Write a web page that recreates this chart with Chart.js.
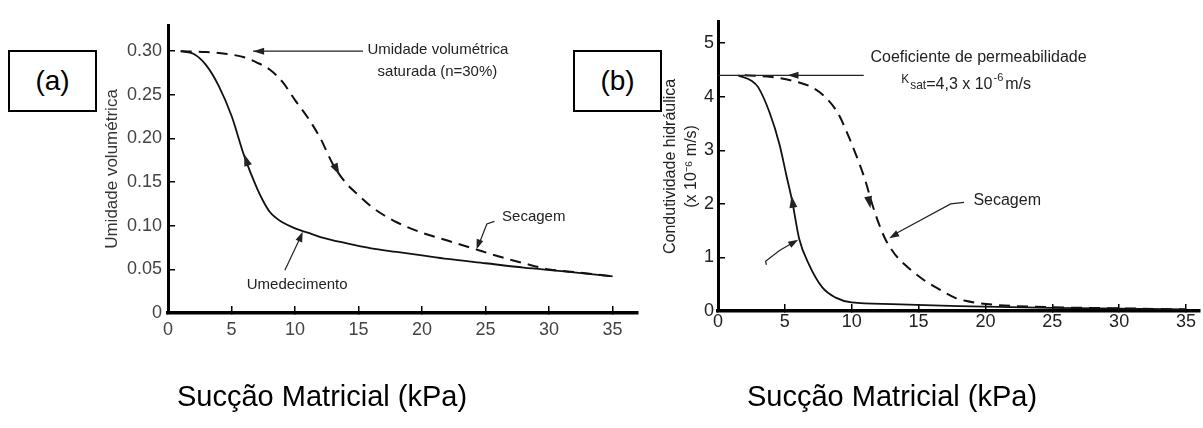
<!DOCTYPE html>
<html>
<head>
<meta charset="utf-8">
<script src="https://cdn.jsdelivr.net/npm/chart.js@4"></script>
<style>
body { margin: 0; background: #fff; width: 1203px; height: 428px; overflow: hidden; position: relative; font-family: "Liberation Sans", Arial, sans-serif; }
canvas { position: absolute; top: 0; }
#chartA { left: 0; }
#chartB { left: 600px; }
.tag { position: absolute; top: 50px; height: 58px; width: 85px; border: 2px solid #000; background: #fff; font-size: 28px; line-height: 58px; text-align: center; z-index: 2; }
.xtitle { position: absolute; top: 382px; font-size: 29px; line-height: 1; white-space: nowrap; }
</style>
</head>
<body>
<canvas id="chartA" width="650" height="428"></canvas>
<canvas id="chartB" width="603" height="428"></canvas>
<div class="tag" style="left:8px">(a)</div>
<div class="tag" style="left:573px">(b)</div>
<div class="xtitle" style="left:177px">Sucção Matricial (kPa)</div>
<div class="xtitle" style="left:747px">Sucção Matricial (kPa)</div>
<script>
var FONT = '"Liberation Sans", Arial, sans-serif';
Chart.defaults.font.family = FONT;

// (a) umidade volumetrica x succao
var suctionWetA = [1, 2, 3, 4, 5, 6, 7, 7.5, 8, 8.5, 9, 10, 11, 12, 14, 16, 18, 20, 22, 25, 28, 31, 35];
var thetaWetA = [0.300, 0.297, 0.284, 0.260, 0.226, 0.180, 0.143, 0.128, 0.116, 0.109, 0.104, 0.097, 0.092, 0.087, 0.080, 0.074, 0.070, 0.066, 0.062, 0.057, 0.052, 0.048, 0.042];
var suctionDryA = [1, 3, 4.5, 6, 7, 8, 9, 10, 11, 12, 13, 14, 15, 16, 17, 18, 20, 22, 24, 26, 28, 30, 32, 35];
var thetaDryA = [0.300, 0.299, 0.297, 0.293, 0.287, 0.279, 0.265, 0.244, 0.224, 0.200, 0.170, 0.149, 0.135, 0.122, 0.112, 0.104, 0.092, 0.083, 0.074, 0.065, 0.057, 0.050, 0.047, 0.042];

// (b) condutividade hidraulica (x 10^-6 m/s) x succao
var suctionWetB = [1.5, 2.5, 3, 3.85, 4.6, 5.1, 5.55, 6.07, 6.8, 7.8, 8.8, 10, 13, 18, 25, 30, 35];
var kWetB = [4.40, 4.30, 4.18, 3.71, 3.11, 2.55, 2.05, 1.35, 0.87, 0.44, 0.25, 0.16, 0.13, 0.09, 0.06, 0.045, 0.03];
var suctionDryB = [2, 4, 6, 7, 8, 9, 9.8, 10.5, 11, 11.5, 12, 12.5, 13, 13.5, 14.5, 15.5, 16.3, 17, 17.7, 18.5, 19.4, 21, 25, 30, 35];
var kDryB = [4.40, 4.37, 4.27, 4.18, 4.00, 3.68, 3.24, 2.80, 2.45, 2.02, 1.65, 1.35, 1.14, 0.98, 0.75, 0.56, 0.44, 0.34, 0.25, 0.19, 0.15, 0.11, 0.07, 0.05, 0.03];

var xTicks = [0, 5, 10, 15, 20, 25, 30, 35];
var xTickLabels = ['0', '5', '10', '15', '20', '25', '30', '35'];
var yTicksA = [0, 0.05, 0.10, 0.15, 0.20, 0.25, 0.30];
var yTickLabelsA = ['0', '0.05', '0.10', '0.15', '0.20', '0.25', '0.30'];
var yTicksB = [0, 1, 2, 3, 4, 5];
var yTickLabelsB = ['0', '1', '2', '3', '4', '5'];

function pts(xs, ys) {
    return xs.map(function (x, i) { return {x: x, y: ys[i]}; });
}

function px(chart, p) {
    return [chart.scales.x.getPixelForValue(p[0]), chart.scales.y.getPixelForValue(p[1])];
}

function polyline(chart, list) {
    var ctx = chart.ctx;
    ctx.beginPath();
    list.forEach(function (p, i) {
        var q = px(chart, p);
        if (i) ctx.lineTo(q[0], q[1]); else ctx.moveTo(q[0], q[1]);
    });
    ctx.stroke();
}

// filled arrow head, tip at "tip", pointing away from "from"
function arrowHead(chart, tip, from, len, half) {
    var ctx = chart.ctx;
    var t = px(chart, tip), f = px(chart, from);
    var dx = t[0] - f[0], dy = t[1] - f[1], d = Math.hypot(dx, dy);
    dx /= d; dy /= d;
    var bx = t[0] - dx * len, by = t[1] - dy * len;
    ctx.beginPath();
    ctx.moveTo(t[0], t[1]);
    ctx.lineTo(bx - dy * half, by + dx * half);
    ctx.lineTo(bx + dy * half, by - dx * half);
    ctx.closePath();
    ctx.fill();
}

function text(chart, str, p, size) {
    var ctx = chart.ctx, q = px(chart, p);
    ctx.font = size + 'px ' + FONT;
    ctx.textAlign = 'left';
    ctx.textBaseline = 'middle';
    ctx.fillText(str, q[0], q[1]);
}

var notesA = {
    id: 'notesA',
    afterDraw: function (chart) {
        var ctx = chart.ctx;
        ctx.save();
        ctx.strokeStyle = '#222';
        ctx.fillStyle = '#222';
        ctx.lineWidth = 1.2;
        // saturated water content pointer
        polyline(chart, [[6.7, 0.30], [15.35, 0.30]]);
        arrowHead(chart, [6.7, 0.30], [8, 0.30], 11, 3.5);
        text(chart, 'Umidade volumétrica', [15.7, 0.302], 15);
        text(chart, 'saturada (n=30%)', [16.5, 0.276], 15);
        // Secagem
        polyline(chart, [[25.7, 0.105], [25.1, 0.102], [24.4, 0.076]]);
        arrowHead(chart, [24.3, 0.073], [24.7, 0.09], 10, 3.5);
        text(chart, 'Secagem', [26.3, 0.110], 15);
        // Umedecimento
        polyline(chart, [[9.2, 0.049], [10.5, 0.089]]);
        arrowHead(chart, [10.6, 0.093], [10.1, 0.075], 10, 3.5);
        text(chart, 'Umedecimento', [6.2, 0.032], 15);
        // direction arrows on the curves
        arrowHead(chart, [6.0, 0.182], [6.4, 0.165], 12, 4);
        arrowHead(chart, [13.5, 0.158], [13.0, 0.172], 12, 4);
        ctx.restore();
    }
};

var notesB = {
    id: 'notesB',
    afterDraw: function (chart) {
        var ctx = chart.ctx;
        ctx.save();
        ctx.strokeStyle = '#222';
        ctx.fillStyle = '#222';
        ctx.lineWidth = 1.2;
        // saturated conductivity pointer
        polyline(chart, [[0, 4.4], [10.9, 4.4]]);
        arrowHead(chart, [5.2, 4.4], [6.5, 4.4], 11, 3.5);
        text(chart, 'Coeficiente de permeabilidade', [11.4, 4.74], 16);
        // K_sat = 4,3 x 10^-6 m/s
        var q = px(chart, [13.7, 4.2]);
        var x = q[0], base = q[1] + 3;
        ctx.textAlign = 'left';
        ctx.textBaseline = 'alphabetic';
        ctx.font = '12px ' + FONT;
        ctx.fillText('K', x, base - 6);
        x += ctx.measureText('K').width + 1;
        ctx.fillText('sat', x, base);
        x += ctx.measureText('sat').width;
        ctx.font = '16px ' + FONT;
        ctx.fillText('=4,3 x 10', x, base);
        x += ctx.measureText('=4,3 x 10').width + 1;
        ctx.font = '11px ' + FONT;
        ctx.fillText('-6', x, base - 8);
        x += ctx.measureText('-6').width + 2;
        ctx.font = '16px ' + FONT;
        ctx.fillText('m/s', x, base);
        // Secagem
        polyline(chart, [[18.4, 2.03], [17.4, 2.0], [13.1, 1.42]]);
        arrowHead(chart, [12.8, 1.36], [13.8, 1.5], 10, 3.5);
        text(chart, 'Secagem', [19.1, 2.07], 16);
        // wetting pointer
        polyline(chart, [[3.62, 0.86], [3.56, 0.93], [4.6, 1.13], [5.7, 1.29]]);
        arrowHead(chart, [6.0, 1.33], [4.6, 1.13], 10, 3.5);
        // direction arrows on the curves
        arrowHead(chart, [5.5, 2.15], [5.72, 1.80], 12, 4);
        arrowHead(chart, [11.4, 1.92], [11.1, 2.3], 12, 4);
        ctx.restore();
    }
};

function lineSet(label, data, dashed) {
    return {
        label: label,
        data: data,
        showLine: true,
        borderColor: '#111',
        borderWidth: dashed ? 2 : 1.8,
        borderDash: dashed ? [11, 7] : [],
        pointRadius: 0,
        cubicInterpolationMode: 'monotone',
        fill: false
    };
}

// Grafico (a)
var chartA = new Chart(document.getElementById('chartA'), {
    type: 'scatter',
    data: {
        datasets: [
            lineSet('Umedecimento', pts(suctionWetA, thetaWetA), false),
            lineSet('Secagem', pts(suctionDryA, thetaDryA), true)
        ]
    },
    options: {
        responsive: false,
        animation: false,
        devicePixelRatio: 1,
        layout: {padding: {top: 25, right: 12, left: 0, bottom: 0}},
        plugins: {legend: {display: false}, tooltip: {enabled: false}},
        scales: {
            x: {
                type: 'linear', min: 0, max: 37,
                afterFit: function (s) { s.height = 115; },
                afterBuildTicks: function (s) { s.ticks = xTicks.map(function (v) { return {value: v}; }); },
                grid: {drawOnChartArea: false, tickLength: -7, color: '#000', lineWidth: 1.5},
                border: {color: '#000', width: 3.5},
                ticks: {padding: 13, color: '#444', font: {size: 18}, maxRotation: 0, autoSkip: false,
                    callback: function (v, i) { return xTickLabels[i]; }}
            },
            y: {
                type: 'linear', min: 0, max: 0.33,
                afterFit: function (s) { s.width = 168; },
                afterBuildTicks: function (s) { s.ticks = yTicksA.map(function (v) { return {value: v}; }); },
                grid: {drawOnChartArea: false, tickLength: -7, color: '#000', lineWidth: 1.5},
                border: {color: '#000', width: 3},
                ticks: {padding: 13, color: '#444', font: {size: 18}, autoSkip: false,
                    callback: function (v, i) { return yTickLabelsA[i]; }},
                title: {display: true, text: 'Umidade volumétrica', color: '#333', font: {size: 17},
                    padding: {top: 102, bottom: 0}}
            }
        }
    },
    plugins: [notesA]
});

// Grafico (b)
var chartB = new Chart(document.getElementById('chartB'), {
    type: 'scatter',
    data: {
        datasets: [
            lineSet('Umedecimento', pts(suctionWetB, kWetB), false),
            lineSet('Secagem', pts(suctionDryB, kDryB), true)
        ]
    },
    options: {
        responsive: false,
        animation: false,
        devicePixelRatio: 1,
        layout: {padding: {top: 13, right: 0, left: 0, bottom: 0}},
        plugins: {legend: {display: false}, tooltip: {enabled: false}},
        scales: {
            x: {
                type: 'linear', min: 0, max: 36,
                afterFit: function (s) { s.height = 117; },
                afterBuildTicks: function (s) { s.ticks = xTicks.map(function (v) { return {value: v}; }); },
                grid: {drawOnChartArea: false, tickLength: -7, color: '#000', lineWidth: 1.5},
                border: {color: '#000', width: 3.5},
                ticks: {padding: 7, color: '#222', font: {size: 18}, maxRotation: 0, autoSkip: false,
                    callback: function (v, i) { return xTickLabels[i]; }}
            },
            y: {
                type: 'linear', min: 0, max: 5.4,
                afterFit: function (s) { s.width = 118; },
                afterBuildTicks: function (s) { s.ticks = yTicksB.map(function (v) { return {value: v}; }); },
                grid: {drawOnChartArea: false, tickLength: -7, color: '#000', lineWidth: 1.5},
                border: {color: '#000', width: 3},
                ticks: {padding: 11, color: '#222', font: {size: 18}, autoSkip: false,
                    callback: function (v, i) { return yTickLabelsB[i]; }},
                title: {display: true, text: ['Condutividade hidráulica', '(x 10⁻⁶ m/s)'], color: '#222',
                    font: {size: 16, lineHeight: 1.3}, padding: {top: 60.6, bottom: 0}}
            }
        }
    },
    plugins: [notesB]
});
</script>
</body>
</html>
